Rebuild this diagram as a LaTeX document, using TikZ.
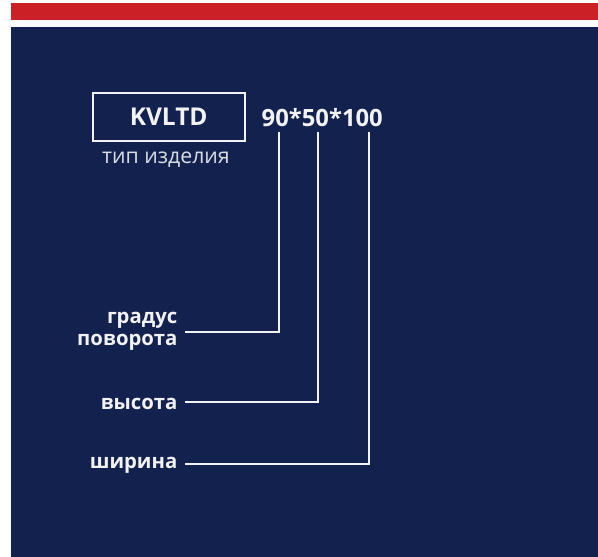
\documentclass[tikz,border=0pt]{standalone}
\usepackage{fontspec}
\setmainfont{Open Sans}
\definecolor{navy}{HTML}{13214F}
\definecolor{barred}{HTML}{CB2026}
\definecolor{ink}{HTML}{F2F2F2}
\definecolor{inklight}{HTML}{DADCE4}
\begin{document}
\begin{tikzpicture}[x=1pt,y=-1pt,
  conn/.style={draw=ink,line width=2pt},
  lbl/.style={text=ink,font=\fontsize{20.3}{22.5}\selectfont\bfseries,align=right,anchor=east,inner sep=0pt}]
\useasboundingbox (0,0) rectangle (598,557);
\fill[white] (0,0) rectangle (598,557);
\fill[barred] (10.5,3) rectangle (598,20);
\fill[navy] (10.5,27) rectangle (598,556.5);
\node[draw=ink,line width=2pt,minimum width=152pt,minimum height=48pt,inner sep=0pt,
  text=ink,font=\fontsize{24.5}{28}\selectfont\bfseries] (type) at (168.7,117.2) {KVLTD};
\node[text=inklight,font=\fontsize{21.3}{24}\selectfont,inner sep=0pt] (typelbl) at (166,159.5) {тип изделия};
\node[text=ink,font=\fontsize{23.8}{28}\selectfont\bfseries,inner sep=0pt,anchor=west] (code) at (261.5,117.2) {90*50*100};
\coordinate (t1) at (278.7,131.7);
\coordinate (t2) at (318,131.7);
\coordinate (t3) at (369.3,131.7);
\node[lbl] (deg) at (177.5,331.5) {градус\\поворота};
\node[lbl] (h) at (177.5,403.5) {высота};
\node[lbl] (w) at (177.5,465.5) {ширина};
\draw[conn] (t1) |- ([xshift=7.5pt]deg.east |- 0,331.7);
\draw[conn] (t2) |- ([xshift=7.5pt]h.east |- 0,402);
\draw[conn] (t3) |- ([xshift=7.5pt]w.east |- 0,463.7);
\end{tikzpicture}
\end{document}
